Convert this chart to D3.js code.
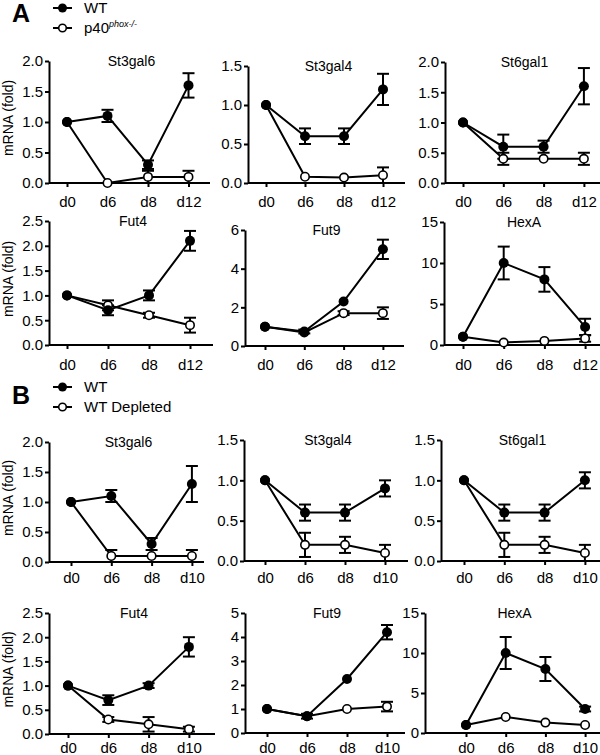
<!DOCTYPE html>
<html>
<head>
<meta charset="utf-8">
<script src="https://cdnjs.cloudflare.com/ajax/libs/d3/7.8.5/d3.min.js"></script>
<style>
  body { margin: 0; background: #fff; }
  svg { display: block; font-family: "Liberation Sans", Arial, sans-serif; }
</style>
</head>
<body>
<svg id="vis" width="600" height="755"></svg>
<script>
// ---- data ----
var genes = ['St3gal6', 'St3gal4', 'St6gal1', 'Fut4', 'Fut9', 'HexA'];
var daysA = ['d0', 'd6', 'd8', 'd12'];
var daysB = ['d0', 'd6', 'd8', 'd10'];

// panel A: WT vs p40phox-/-
var wtA = [
  [1.0, 1.1, 0.3, 1.6],
  [1.0, 0.6, 0.6, 1.2],
  [1.0, 0.6, 0.6, 1.6],
  [1.0, 0.7, 1.0, 2.1],
  [1.0, 0.75, 2.3, 5.0],
  [1.0, 10.0, 8.0, 2.2]
];
var wtErrA = [
  [0, 0.1, 0.07, 0.2],
  [0, 0.1, 0.1, 0.2],
  [0, 0.2, 0.1, 0.3],
  [0, 0.1, 0.1, 0.2],
  [0, 0.1, 0, 0.5],
  [0, 2.0, 1.5, 1.0]
];
var koA = [
  [1.0, 0.0, 0.1, 0.1],
  [1.0, 0.08, 0.07, 0.1],
  [1.0, 0.4, 0.4, 0.4],
  [1.0, 0.8, 0.6, 0.4],
  [1.0, 0.7, 1.7, 1.7],
  [1.0, 0.3, 0.5, 0.8]
];
var koErrA = [
  [0, 0, 0.1, 0.1],
  [0, 0, 0, 0.1],
  [0, 0.1, 0, 0.1],
  [0, 0.1, 0.05, 0.15],
  [0, 0, 0.1, 0.3],
  [0, 0, 0, 0.4]
];

// panel B: WT vs WT depleted
var wtB = [
  [1.0, 1.1, 0.3, 1.3],
  [1.0, 0.6, 0.6, 0.9],
  [1.0, 0.6, 0.6, 1.0],
  [1.0, 0.7, 1.0, 1.8],
  [1.0, 0.7, 2.25, 4.2],
  [1.0, 10.0, 8.0, 3.0]
];
var wtErrB = [
  [0, 0.1, 0.1, 0.3],
  [0, 0.1, 0.1, 0.1],
  [0, 0.1, 0.1, 0.1],
  [0, 0.1, 0.05, 0.2],
  [0, 0.1, 0, 0.3],
  [0, 2.0, 1.5, 0.3]
];
var depB = [
  [1.0, 0.1, 0.1, 0.1],
  [1.0, 0.2, 0.2, 0.1],
  [1.0, 0.2, 0.2, 0.1],
  [1.0, 0.3, 0.2, 0.1],
  [1.0, 0.7, 1.0, 1.1],
  [1.0, 2.0, 1.3, 1.0]
];
var depErrB = [
  [0, 0.1, 0, 0.1],
  [0, 0.15, 0.1, 0.1],
  [0, 0.15, 0.1, 0.1],
  [0, 0.05, 0.15, 0.05],
  [0, 0, 0, 0.2],
  [0, 0, 0, 0]
];

// y axes
var yTicksA = [
  [0, 0.5, 1.0, 1.5, 2.0],
  [0, 0.5, 1.0, 1.5],
  [0, 0.5, 1.0, 1.5, 2.0],
  [0, 0.5, 1.0, 1.5, 2.0, 2.5],
  [0, 2, 4, 6],
  [0, 5, 10, 15]
];
var yTicksB = [
  [0, 0.5, 1.0, 1.5, 2.0],
  [0, 0.5, 1.0, 1.5],
  [0, 0.5, 1.0, 1.5],
  [0, 0.5, 1.0, 1.5, 2.0, 2.5],
  [0, 1, 2, 3, 4, 5],
  [0, 5, 10, 15]
];
var tickFmts = ['.1f', '.1f', '.1f', '.1f', 'd', 'd'];

var legendA = ['WT', 'p40'];
var legendB = ['WT', 'WT Depleted'];

// ---- layout (axis x, first day x, day spacing, axis right end, top, bottom, label pad) ----
var boxesA = [
  {ax: 49, x0: 67, dx: 40.5, xr: 210, top: 61, bot: 183, pad: 9},
  {ax: 248, x0: 266, dx: 39, xr: 405, top: 66, bot: 183, pad: 9},
  {ax: 445, x0: 463, dx: 40.3, xr: 600, top: 62, bot: 183, pad: 9},
  {ax: 49, x0: 67, dx: 41, xr: 213, top: 221, bot: 345, pad: 10},
  {ax: 245, x0: 265, dx: 39.3, xr: 404, top: 230, bot: 346, pad: 9},
  {ax: 444, x0: 463, dx: 40.7, xr: 600, top: 222, bot: 345, pad: 10}
];
var boxesB = [
  {ax: 49, x0: 71, dx: 40.3, xr: 204, top: 442, bot: 562, pad: 6},
  {ax: 244, x0: 265, dx: 40, xr: 408, top: 440, bot: 561, pad: 7},
  {ax: 441, x0: 464, dx: 40.3, xr: 600, top: 440, bot: 561, pad: 7},
  {ax: 49, x0: 68, dx: 40.3, xr: 215, top: 613, bot: 734, pad: 4},
  {ax: 245, x0: 267, dx: 40, xr: 405, top: 613, bot: 733, pad: 5},
  {ax: 425, x0: 466, dx: 39.7, xr: 600, top: 613, bot: 733, pad: 5}
];

var svg = d3.select('#vis');

function drawPanel(box, days, gene, wt, wtErr, other, otherErr, yTicks, fmt, yLabel) {
  var g = svg.append('g');

  var x = d3.scalePoint()
    .domain(days)
    .range([box.x0, box.x0 + box.dx * (days.length - 1)]);
  var y = d3.scaleLinear()
    .domain([0, d3.max(yTicks)])
    .range([box.bot, box.top]);

  /* axes */
  g.append('g')
    .attr('transform', 'translate(' + box.ax + ',0)')
    .call(d3.axisLeft(y).tickValues(yTicks).tickFormat(d3.format(fmt))
      .tickSize(4).tickSizeOuter(0).tickPadding(2));

  var xAxis = g.append('g')
    .attr('transform', 'translate(0,' + box.bot + ')')
    .call(d3.axisBottom(x).tickSize(4).tickSizeOuter(0).tickPadding(box.pad));
  xAxis.select('.domain').remove();
  xAxis.append('line')
    .attr('x1', box.ax).attr('x2', box.xr)
    .attr('stroke', '#000').attr('stroke-width', 2);

  g.selectAll('.domain').attr('stroke-width', 2);
  g.selectAll('.tick line').attr('stroke-width', 2);
  g.selectAll('.tick text')
    .attr('font-size', 15)
    .attr('fill', '#000')
    .attr('font-family', '"Liberation Sans", Arial, sans-serif');

  /* title */
  g.append('text')
    .attr('x', (box.ax + box.xr) / 2 + 2)
    .attr('y', box.top + 5)
    .attr('text-anchor', 'middle')
    .attr('font-size', 14)
    .attr('fill', '#000')
    .text(gene);

  if (yLabel) {
    g.append('text')
      .attr('transform', 'translate(13,' + ((box.top + box.bot) / 2 - 4) + ') rotate(-90)')
      .attr('text-anchor', 'middle')
      .attr('font-size', 14)
      .attr('fill', '#000')
      .text('mRNA (fold)');
  }

  var line = d3.line()
    .x(function(d, i) { return x(days[i]); })
    .y(function(d) { return y(d); });

  [other, wt].forEach(function(vals) {
    g.append('path')
      .datum(vals)
      .attr('d', line)
      .attr('fill', 'none')
      .attr('stroke', '#000')
      .attr('stroke-width', 2);
  });

  /* error bars */
  [[other, otherErr], [wt, wtErr]].forEach(function(s) {
    var vals = s[0], errs = s[1];
    var bars = g.append('g').selectAll('g')
      .data(vals.map(function(v, i) { return {day: days[i], v: v, e: errs[i]}; })
        .filter(function(d) { return d.e > 0; }))
      .enter().append('g')
      .attr('stroke', '#000')
      .attr('stroke-width', 2);
    bars.append('line')
      .attr('x1', function(d) { return x(d.day); })
      .attr('x2', function(d) { return x(d.day); })
      .attr('y1', function(d) { return y(Math.max(0, d.v - d.e)); })
      .attr('y2', function(d) { return y(d.v + d.e); });
    bars.append('line')
      .attr('x1', function(d) { return x(d.day) - 6; })
      .attr('x2', function(d) { return x(d.day) + 6; })
      .attr('y1', function(d) { return y(d.v + d.e); })
      .attr('y2', function(d) { return y(d.v + d.e); });
    bars.append('line')
      .attr('x1', function(d) { return x(d.day) - 6; })
      .attr('x2', function(d) { return x(d.day) + 6; })
      .attr('y1', function(d) { return y(Math.max(0, d.v - d.e)); })
      .attr('y2', function(d) { return y(Math.max(0, d.v - d.e)); });
  });

  /* markers: open first, filled on top */
  g.append('g').selectAll('circle')
    .data(other)
    .enter().append('circle')
    .attr('cx', function(d, i) { return x(days[i]); })
    .attr('cy', function(d) { return y(d); })
    .attr('r', 4.2)
    .attr('fill', '#fff')
    .attr('stroke', '#000')
    .attr('stroke-width', 1.6);

  g.append('g').selectAll('circle')
    .data(wt)
    .enter().append('circle')
    .attr('cx', function(d, i) { return x(days[i]); })
    .attr('cy', function(d) { return y(d); })
    .attr('r', 5)
    .attr('fill', '#000');
}

function drawLegend(letter, letterY, ly, labels, sup) {
  var g = svg.append('g');
  g.append('text')
    .attr('x', 12).attr('y', letterY)
    .attr('font-size', 25)
    .attr('font-weight', 'bold')
    .attr('fill', '#000')
    .text(letter);

  labels.forEach(function(lab, i) {
    var yy = ly + i * 20;
    g.append('line')
      .attr('x1', 53).attr('x2', 72)
      .attr('y1', yy).attr('y2', yy)
      .attr('stroke', '#000').attr('stroke-width', 2);
    g.append('circle')
      .attr('cx', 62.5).attr('cy', yy)
      .attr('r', i === 0 ? 4.5 : 3.8)
      .attr('fill', i === 0 ? '#000' : '#fff')
      .attr('stroke', '#000')
      .attr('stroke-width', i === 0 ? 0 : 1.6);
    var t = g.append('text')
      .attr('x', 84).attr('y', yy + 5)
      .attr('font-size', 15)
      .attr('fill', '#000')
      .text(lab);
    if (i === 1 && sup) {
      t.append('tspan')
        .attr('font-size', 9)
        .attr('font-style', 'italic')
        .attr('dy', -6)
        .text(sup);
    }
  });
}

drawLegend('A', 22, 8, legendA, 'phox-/-');
drawLegend('B', 404, 387, legendB, null);

genes.forEach(function(gene, i) {
  drawPanel(boxesA[i], daysA, gene, wtA[i], wtErrA[i], koA[i], koErrA[i],
    yTicksA[i], tickFmts[i], i % 3 === 0);
  drawPanel(boxesB[i], daysB, gene, wtB[i], wtErrB[i], depB[i], depErrB[i],
    yTicksB[i], tickFmts[i], i % 3 === 0);
});
</script>
</body>
</html>
